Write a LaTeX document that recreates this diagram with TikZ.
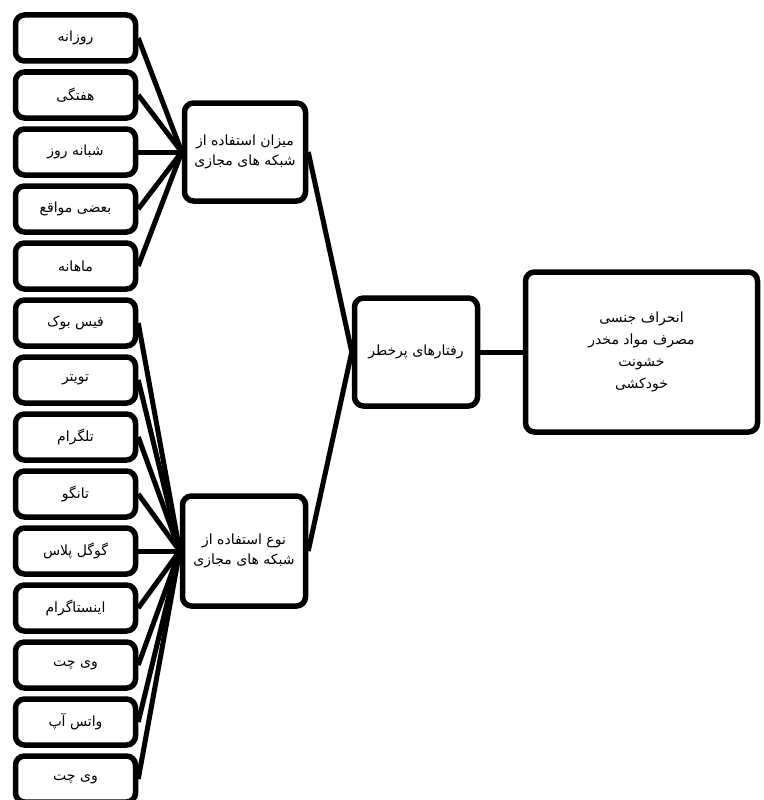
\documentclass[tikz,border=0pt]{standalone}
\usepackage{fontspec}
\newfontfamily\arabicfont[Script=Arabic]{DejaVu Sans}
\TeXXeTstate=1
\newcommand{\fa}[1]{{\arabicfont\beginR #1\endR}}
\begin{document}
\begin{tikzpicture}[x=1pt,y=-1pt]
        \tikzstyle{item}=[rectangle,rounded corners=9pt,draw=black,line width=5.5pt,minimum width=120pt,minimum height=46pt,font=\fontsize{14}{20}\selectfont,align=center]
        \tikzstyle{group}=[item,minimum width=121pt,minimum height=98pt]
        \tikzstyle{edge}=[draw, line width=5pt]
        \useasboundingbox (0,0) rectangle (763,800);
       \begin{scope}
         % frequency of use
         \node [item] (f1) at (75.5,38) {\fa{روزانه}};
         \node [item] (f2) at (75.5,95) {\fa{هفتگی}};
         \node [item] (f3) at (75.5,152) {\fa{شبانه روز}};
         \node [item] (f4) at (75.5,209) {\fa{بعضی مواقع}};
         \node [item] (f5) at (75.5,266) {\fa{ماهانه}};
         % type of network
         \node [item] (t1) at (75.5,323) {\fa{فیس بوک}};
         \node [item] (t2) at (75.5,380) {\fa{تویتر}};
         \node [item] (t3) at (75.5,437) {\fa{تلگرام}};
         \node [item] (t4) at (75.5,494) {\fa{تانگو}};
         \node [item] (t5) at (75.5,551) {\fa{گوگل پلاس}};
         \node [item] (t6) at (75.5,608) {\fa{اینستاگرام}};
         \node [item] (t7) at (75.5,665) {\fa{وی چت}};
         \node [item] (t8) at (75.5,722) {\fa{واتس آپ}};
         \node [item] (t9) at (75.5,779) {\fa{وی چت}};

         \node [group] (usage) at (245,152) {\fa{میزان استفاده از}\\\fa{شبکه های مجازی}};
         \node [group,minimum width=123pt,minimum height=110pt] (kind) at (244,551) {\fa{نوع استفاده از}\\\fa{شبکه های مجازی}};
         \node [group,minimum width=123pt,minimum height=108pt] (risk) at (416,352) {\fa{رفتارهای  پرخطر}};
         \node [group,minimum width=232pt,minimum height=160pt,font=\fontsize{14}{22}\selectfont] (result) at (641.5,352) {\fa{انحراف جنسی}\\\fa{مصرف مواد مخدر}\\\fa{خشونت}\\\fa{خودکشی}};

         \path[edge] (f1.east) -- (usage.west);
         \path[edge] (f2.east) -- (usage.west);
         \path[edge] (f3.east) -- (usage.west);
         \path[edge] (f4.east) -- (usage.west);
         \path[edge] (f5.east) -- (usage.west);
         \path[edge] (t1.east) -- (kind.west);
         \path[edge] (t2.east) -- (kind.west);
         \path[edge] (t3.east) -- (kind.west);
         \path[edge] (t4.east) -- (kind.west);
         \path[edge] (t5.east) -- (kind.west);
         \path[edge] (t6.east) -- (kind.west);
         \path[edge] (t7.east) -- (kind.west);
         \path[edge] (t8.east) -- (kind.west);
         \path[edge] (t9.east) -- (kind.west);
         \path[edge] (usage.east) -- (risk.west);
         \path[edge] (kind.east) -- (risk.west);
         \path[edge] (risk.east) -- (result.west);
        \end{scope}
      \end{tikzpicture}
\end{document}
